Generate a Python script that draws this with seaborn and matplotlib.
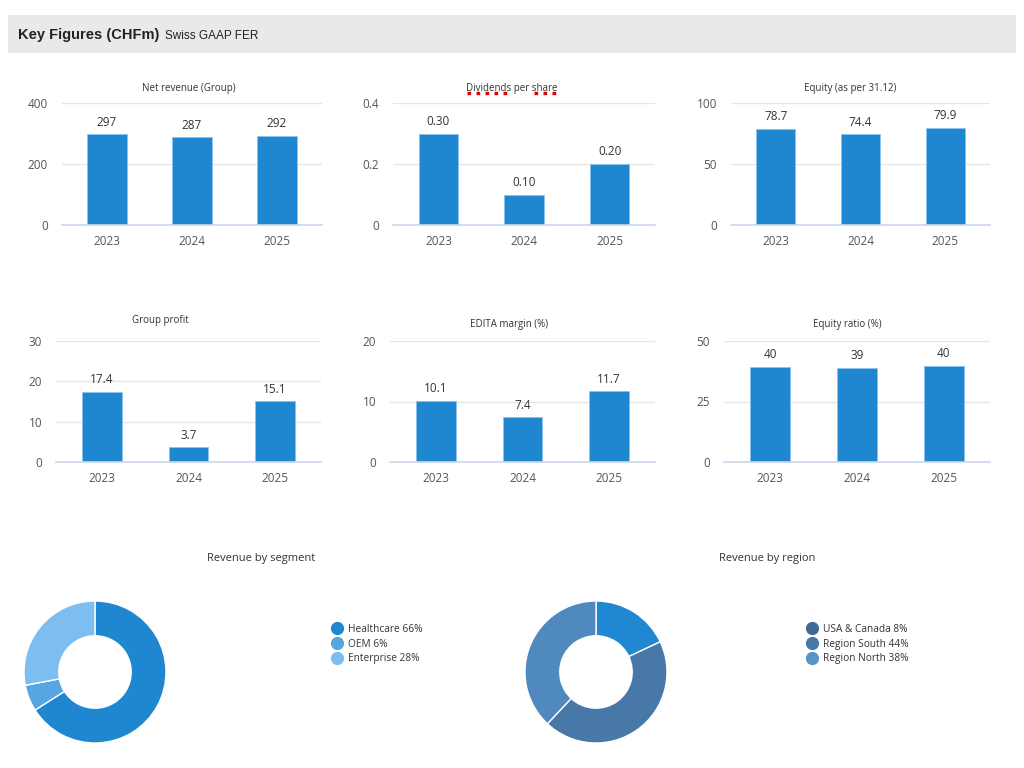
import matplotlib
matplotlib.use("Agg")
import matplotlib.pyplot as plt
from matplotlib.patches import Rectangle
from matplotlib.lines import Line2D
import seaborn as sns

# -----------------------------------
# data
# -----------------------------------
years = ["2023", "2024", "2025"]

net_revenue = [297, 287, 292]
dividends = [0.30, 0.10, 0.20]
equity = [78.7, 74.4, 79.9]
group_profit = [17.4, 3.7, 15.1]
edita_margin = [10.1, 7.4, 11.7]
equity_ratio = [39.3, 38.9, 39.7]

net_revenue_lbl = ["297", "287", "292"]
dividends_lbl = ["0.30", "0.10", "0.20"]
equity_lbl = ["78.7", "74.4", "79.9"]
group_profit_lbl = ["17.4", "3.7", "15.1"]
edita_margin_lbl = ["10.1", "7.4", "11.7"]
equity_ratio_lbl = ["40", "39", "40"]

net_revenue_ticks = [0, 200, 400]
dividends_ticks = [0, 0.2, 0.4]
dividends_ticklbl = ["0", "0.2", "0.4"]
equity_ticks = [0, 50, 100]
group_profit_ticks = [0, 10, 20, 30]
edita_margin_ticks = [0, 10, 20]
equity_ratio_ticks = [0, 25, 50]

segments = ["Healthcare 66%", "OEM 6%", "Enterprise 28%"]
segment_share = [66, 6, 28]

regions = ["USA & Canada 8%", "Region South 44%", "Region North 38%"]
region_share = [18, 44, 38]   # as drawn in the donut

# -----------------------------------
# style
# -----------------------------------
sns.set_theme(style="white")
plt.rcParams["font.family"] = ["Open Sans", "DejaVu Sans"]

BAR = "#1f87d0"
TXT = "#333333"
TICK = "#555555"
GRID = "#e6e6e6"
AXLINE = "#ccd6eb"
seg_colors = ["#1f87d0", "#55a6e2", "#7dbdf0"]
reg_pie_colors = ["#2088d2", "#4878a8", "#5089bd"]
reg_leg_colors = ["#3f6b96", "#4878a8", "#5a91c6"]

W, H = 1024, 768
fig = plt.figure(figsize=(W / 100, H / 100), dpi=100)
fig.patch.set_facecolor("white")


def px_axes(x0, y0, x1, y1):
    return fig.add_axes([x0 / W, 1 - y1 / H, (x1 - x0) / W, (y1 - y0) / H])


def px_text(x, y, s, **kw):
    fig.text(x / W, 1 - y / H, s, **kw)


# header bar
fig.add_artist(Rectangle((8 / W, 1 - 53 / H), 1008 / W, 38 / H,
                         transform=fig.transFigure, facecolor="#e9e9e9",
                         edgecolor="none"))
px_text(18, 35, "Key Figures (CHFm)", fontsize=10.5, fontweight="bold",
        color="#222222", va="center", family=["Liberation Sans", "DejaVu Sans"])
px_text(165, 36, "Swiss GAAP FER", fontsize=8.5, color="#222222",
        va="center", family=["Liberation Sans", "DejaVu Sans"])


def bar_panel(box, values, labels, ticks, title, title_xy, ticklabels=None):
    ax = px_axes(*box)
    sns.barplot(x=years, y=values, ax=ax, color=BAR, width=0.46,
                saturation=1, edgecolor="#8cc4ee", linewidth=0.6)
    ax.set_xlim(-0.53, 2.53)
    ax.set_ylim(0, ticks[-1])
    ax.set_yticks(ticks)
    if ticklabels is not None:
        ax.set_yticklabels(ticklabels)
    ax.set_xlabel("")
    ax.set_ylabel("")
    ax.yaxis.grid(True, color=GRID, linewidth=1)
    ax.set_axisbelow(True)
    for side in ["top", "right", "left"]:
        ax.spines[side].set_visible(False)
    ax.spines["bottom"].set_color(AXLINE)
    ax.spines["bottom"].set_linewidth(1.2)
    ax.tick_params(axis="y", length=0, pad=10, labelsize=8.5, labelcolor=TICK)
    ax.tick_params(axis="x", length=5, width=0.8, color=AXLINE, pad=2.5,
                   labelsize=8.5, labelcolor=TICK)
    ax.bar_label(ax.containers[0], labels=labels, padding=4, fontsize=8.5,
                 color=TXT)
    px_text(title_xy[0], title_xy[1], title, fontsize=7, color=TXT,
            ha="center", va="center")
    return ax


bar_panel((62, 103, 322, 225), net_revenue, net_revenue_lbl, net_revenue_ticks,
          "Net revenue (Group)", (189, 88))
bar_panel((393, 103, 655, 225), dividends, dividends_lbl, dividends_ticks,
          "Dividends per share", (512, 88), dividends_ticklbl)
bar_panel((731, 103, 990, 225), equity, equity_lbl, equity_ticks,
          "Equity (as per 31.12)", (850, 88))

bar_panel((56, 341, 321, 462), group_profit, group_profit_lbl,
          group_profit_ticks, "Group profit", (160, 321))
bar_panel((390, 341, 655, 462), edita_margin, edita_margin_lbl,
          edita_margin_ticks, "EDITA margin (%)", (509, 325))
bar_panel((724, 341, 990, 462), equity_ratio, equity_ratio_lbl,
          equity_ratio_ticks, "Equity ratio (%)", (847, 324))

# spell-check squiggles under the dividends title, as in the screenshot
for x0, x1 in [(467, 512), (534, 558)]:
    fig.add_artist(Line2D([x0 / W, x1 / W], [1 - 92.5 / H, 1 - 92.5 / H],
                          transform=fig.transFigure, color="#e00000",
                          linewidth=2.4, linestyle=(0, (1.1, 1.6))))


def donut(center, values, colors, title, title_xy, names, leg_colors, leg_xy):
    r = 71
    cx, cy = center
    ax = px_axes(cx - r, cy - r, cx + r, cy + r)
    ax.pie(values, colors=colors, startangle=90, counterclock=False,
           radius=1, wedgeprops=dict(width=0.49, edgecolor="white",
                                     linewidth=1))
    ax.set_xlim(-1, 1)
    ax.set_ylim(-1, 1)
    ax.set_aspect("equal")
    ax.axis("off")
    px_text(title_xy[0], title_xy[1], title, fontsize=8, color=TXT,
            ha="center", va="center")
    handles = [Line2D([], [], marker="o", linestyle="", markersize=8.5,
                      markerfacecolor=c, markeredgecolor=c) for c in leg_colors]
    fig.legend(handles, names, loc="upper left",
               bbox_to_anchor=(leg_xy[0] / W, 1 - leg_xy[1] / H),
               frameon=False, fontsize=7.3, labelspacing=0.36,
               handletextpad=0.05, borderpad=0, borderaxespad=0,
               labelcolor=TXT)


donut((95, 672), segment_share, seg_colors, "Revenue by segment", (261, 559),
      segments, seg_colors, (327, 624))
donut((596, 672), region_share, reg_pie_colors, "Revenue by region",
      (767, 559), regions, reg_leg_colors, (802, 624))

fig.savefig("out.png", dpi=100, facecolor="white")
